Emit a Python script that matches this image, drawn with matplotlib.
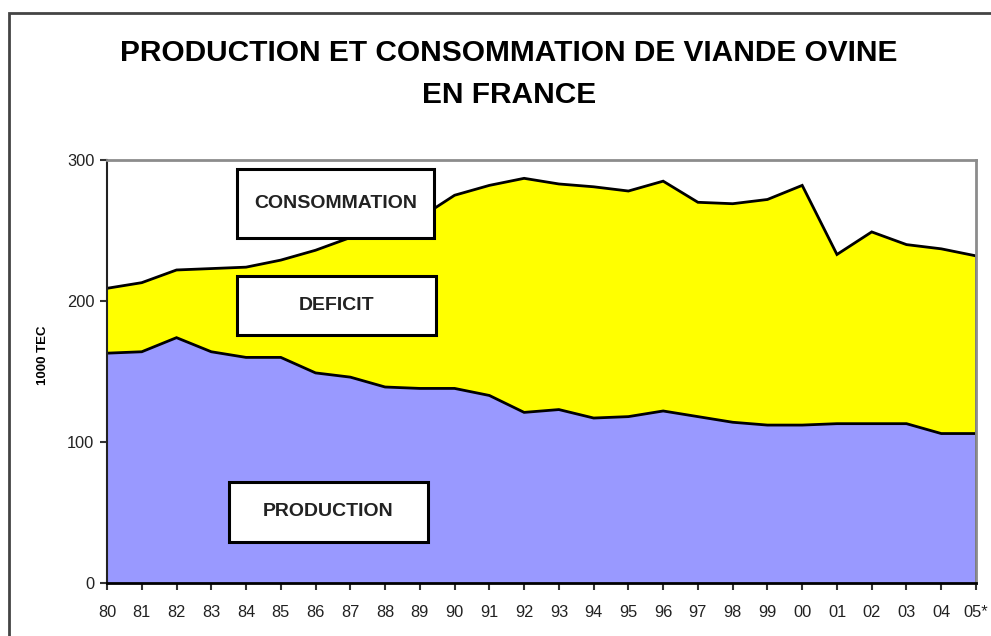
import matplotlib
matplotlib.use("Agg")
from matplotlib import pyplot as plt
from matplotlib.patches import Rectangle
import numpy as np

plt.rcParams['font.family'] = ['Liberation Sans', 'DejaVu Sans']

# années (position) et libellés
years = ['80', '81', '82', '83', '84', '85', '86', '87', '88', '89',
         '90', '91', '92', '93', '94', '95', '96', '97', '98', '99',
         '00', '01', '02', '03', '04', '05*']
# consommation (1000 TEC)
consommation = [209, 213, 222, 223, 224, 229, 236, 245, 251, 259,
                275, 282, 287, 283, 281, 278, 285, 270, 269, 272,
                282, 233, 249, 240, 237, 232]
# production (1000 TEC)
production = [163, 164, 174, 164, 160, 160, 149, 146, 139, 138,
              138, 133, 121, 123, 117, 118, 122, 118, 114, 112,
              112, 113, 113, 113, 106, 106]

x = np.arange(len(years))
cons = np.array(consommation)
prod = np.array(production)

fig = plt.figure(figsize=(9.91, 6.36), dpi=100)
ax = fig.add_axes([107 / 991, 1 - 583 / 636, 869 / 991, 423 / 636])

# aires empilées
ax.fill_between(x, 0, prod, facecolor='#9999FF', edgecolor='none')
ax.fill_between(x, prod, cons, facecolor='#FFFF00', edgecolor='none')
ax.plot(x, prod, color='black', lw=2, solid_joinstyle='miter')
ax.plot(x, cons, color='black', lw=2, solid_joinstyle='miter')
ax.vlines(x[-1], 0, cons[-1], color='black', lw=2)

ax.set_xlim(0, len(years) - 1)
ax.set_ylim(0, 300)
ax.set_xticks(x)
ax.set_xticklabels(years)
ax.set_yticks([0, 100, 200, 300])
ax.tick_params(axis='both', direction='out', length=5, width=1.5,
               labelsize=11.8, labelcolor='#222222', color='#333333')
ax.tick_params(axis='x', pad=11)
ax.tick_params(axis='y', pad=4)
ax.spines['top'].set_color('#8c8c8c')
ax.spines['right'].set_color('#8c8c8c')
ax.spines['top'].set_linewidth(2)
ax.spines['right'].set_linewidth(2)
ax.spines['left'].set_color('#222222')
ax.spines['left'].set_linewidth(1.5)
ax.spines['bottom'].set_color('black')
ax.spines['bottom'].set_linewidth(2)

ax.set_ylabel('1000 TEC', fontsize=9.5, fontweight='bold')
ax.yaxis.set_label_coords((49 - 107) / 869, (583 - 355) / 423)

# cadres des libellés
boxes = [('CONSOMMATION', 0.1496, 0.8156, 0.2267, 0.1631),
         ('DEFICIT', 0.1496, 0.5863, 0.2290, 0.1395),
         ('PRODUCTION', 0.1404, 0.0969, 0.2290, 0.1419)]
for label, bx, by, bw, bh in boxes:
    ax.add_patch(Rectangle((bx, by), bw, bh, transform=ax.transAxes,
                           facecolor='white', edgecolor='black', lw=2.2, zorder=5))
    ax.text(bx + bw / 2, by + bh / 2, label, transform=ax.transAxes,
            ha='center', va='center', fontsize=14, fontweight='bold',
            color='#222222', zorder=6)

# titre
fig.text(509 / 991, 1 - 53 / 636, 'PRODUCTION ET CONSOMMATION DE VIANDE OVINE',
         ha='center', va='center', fontsize=21.5, fontweight='bold')
fig.text(509 / 991, 1 - 95 / 636, 'EN FRANCE',
         ha='center', va='center', fontsize=21.5, fontweight='bold')

# cadre extérieur
fig.add_artist(Rectangle((9 / 991, -0.2), 1.5, 1.2 - 13 / 636, transform=fig.transFigure,
                         facecolor='none', edgecolor='#444444', lw=2))

fig.savefig('out.png', dpi=100)
